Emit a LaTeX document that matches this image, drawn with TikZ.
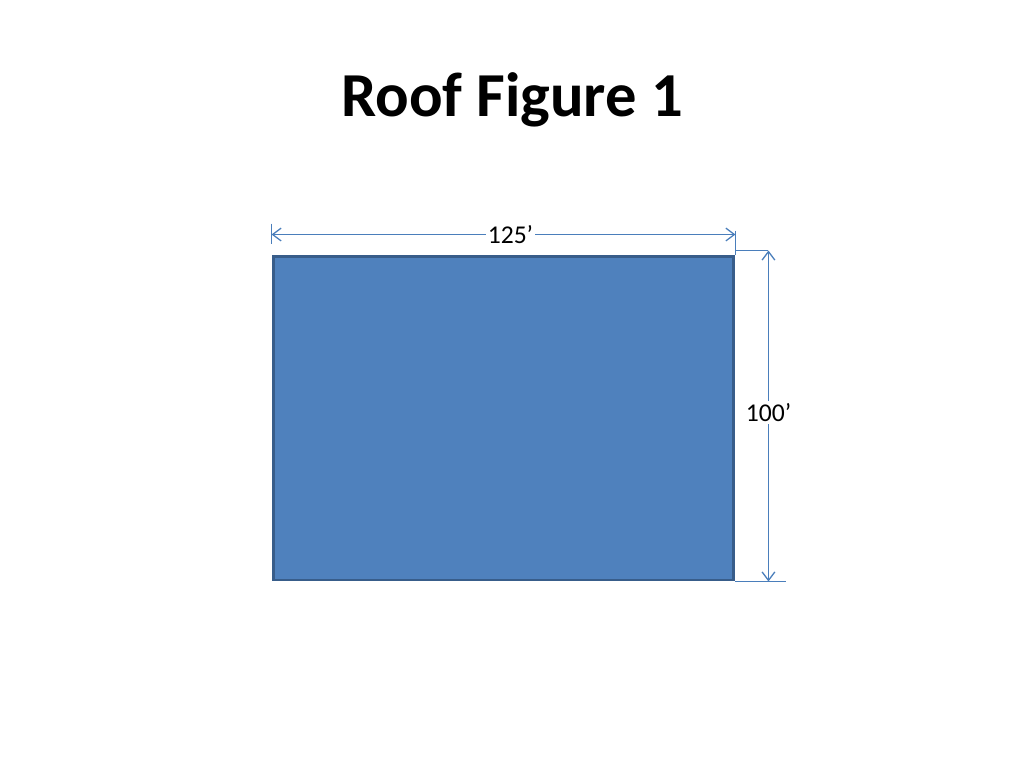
\documentclass[tikz,border=0pt]{standalone}
\usepackage{fontspec}
\setmainfont{Carlito}
\usetikzlibrary{arrows.meta}
\usetikzlibrary{positioning}
\usetikzlibrary{calc}
\definecolor{roofblue}{HTML}{4F81BD}
\definecolor{roofedge}{HTML}{385D8A}
\definecolor{dimblue}{HTML}{4A7EBB}
\tikzset{
    roofbox/.style={draw=roofedge, fill=roofblue, line width=2.1pt, inner sep=0pt,
        minimum width=324.1pt, minimum height=227.8pt},
    dimline/.style={draw=dimblue, line width=0.9pt,
        {Straight Barb[length=6pt,width=9pt]}-{Straight Barb[length=6pt,width=9pt]}},
    extline/.style={draw=dimblue, line width=0.9pt},
    dimlabel/.style={fill=white, inner sep=1.5pt, font=\fontsize{18}{21}\selectfont},
}
\begin{document}
\begin{tikzpicture}[x=0.703125pt, y=-0.703125pt]
		\useasboundingbox (0,0) rectangle (1024,768);
		\node[anchor=base, font=\bfseries\fontsize{44}{53}\selectfont] (title) at (512,117) {Roof Figure 1};
		\node[roofbox] (roof) at (503.5,418) {};
		% width
		\coordinate (wl) at ($(roof.north west)+(0,-20)$);
		\coordinate (wr) at ($(roof.north east)+(0,-20)$);
		\draw[extline] ($(wl)+(0,-11)$) -- ($(wl)+(0,9)$);
		\draw[extline] ($(wr)+(0,-4)$) -- (roof.north east);
		\draw[dimline] (wl) -- (wr);
		\node[dimlabel] (w) at ($(wl)!0.515!(wr)$) {125’};
		% height
		\coordinate (ht) at ($(roof.north east)+(33,-4)$);
		\coordinate (hb) at ($(roof.south east)+(33,0)$);
		\draw[extline] ($(roof.north east)+(0,-4)$) -- (ht);
		\draw[extline] (roof.south east) -- ($(hb)+(18,0)$);
		\draw[dimline] (ht) -- (hb);
		\node[dimlabel] (h) at ($(ht)!0.49!(hb)$) {100’};
	 \end{tikzpicture}
\end{document}
